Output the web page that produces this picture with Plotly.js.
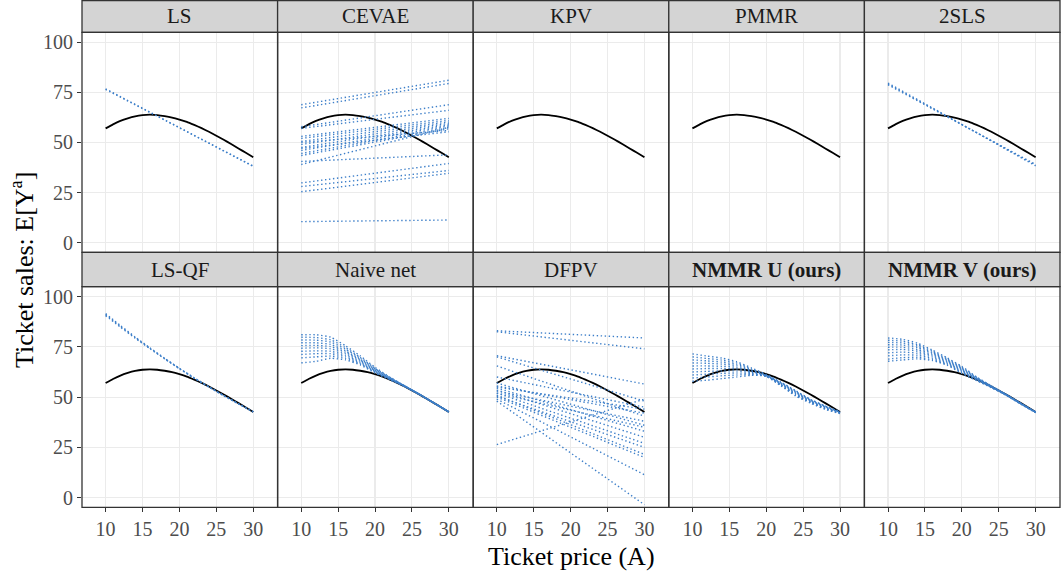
<!DOCTYPE html>
<html>
<head>
<meta charset="utf-8">
<script src="https://cdn.plot.ly/plotly-3.0.1.min.js"></script>
<style>
  html, body { margin: 0; padding: 0; background: #ffffff; }
  #chart { width: 1061px; height: 579px; }
</style>
</head>
<body>
<div id="chart"></div>
<script>
// Facet order, left to right, top row then bottom row
const methods = ['LS', 'CEVAE', 'KPV', 'PMMR', '2SLS',
                 'LS-QF', 'Naive net', 'DFPV', 'NMMR U (ours)', 'NMMR V (ours)'];
const boldMethods = ['NMMR U (ours)', 'NMMR V (ours)'];

const xTicks = [10, 15, 20, 25, 30];
const yTicks = [0, 25, 50, 75, 100];

// True causal curve E[Y^a]
const truthPrice = [10, 11, 12, 13, 14, 15, 16, 17, 18, 19, 20, 21, 22, 23, 24, 25, 26, 27, 28, 29, 30];
const truthSales = [57.0, 59.0, 60.7, 62.0, 63.0, 63.6, 63.8, 63.6, 63.1, 62.4, 61.4,
                    60.2, 58.7, 57.1, 55.3, 53.3, 51.3, 49.2, 47.0, 44.8, 42.6];

// Price grid for the nonlinear estimators
const curvePrice = [10, 12, 14, 16, 18, 20, 22, 24, 26, 28, 30];
// Linear estimators are given by their values at the two ends
const linePrice = [10, 30];

const lsLines = [[76.4, 38.2], [76.7, 38.0]];
const tslsLines = [[79.1, 38.7], [79.6, 38.3], [78.7, 39.0]];
const cevaeLines = [
  [68.8, 81.0], [67.2, 79.4], [57.8, 68.8], [57.0, 66.0], [53.0, 62.0],
  [52.0, 61.0], [50.5, 60.2], [49.0, 59.5], [47.5, 58.8], [46.0, 58.2],
  [44.5, 57.5], [43.5, 56.8], [50.0, 56.0], [47.0, 55.3], [39.0, 57.5],
  [40.5, 43.8], [29.8, 39.5], [28.0, 36.0], [25.4, 34.6], [10.5, 11.3]
];
const dfpvLines = [
  [83.0, 79.4], [82.5, 74.0], [70.6, 56.5], [70.0, 48.0], [65.5, 40.5],
  [60.0, 45.0], [57.0, 36.0], [55.5, 42.0], [54.5, 33.0], [53.5, 30.0],
  [53.0, 38.0], [52.0, 27.0], [51.0, 21.5], [50.5, 25.0], [50.0, 20.0],
  [49.0, 11.4], [48.0, -3.5], [26.4, 49.0], [55.0, 44.0], [52.0, 35.0]
];

const lsqfCurves = [
  [91.0, 85.2, 79.6, 74.3, 69.1, 64.2, 59.5, 55.0, 50.7, 46.6, 42.7],
  [91.5, 85.6, 79.9, 74.5, 69.3, 64.3, 59.6, 55.1, 50.8, 46.7, 42.8],
  [90.5, 84.8, 79.3, 74.1, 69.0, 64.1, 59.4, 55.0, 50.7, 46.6, 42.6]
];

const naiveCurves = [
  [81.0, 81.0, 79.8, 75.5, 70.5, 64.8, 60.0, 55.7, 51.5, 47.1, 42.7],
  [79.8, 79.6, 78.5, 74.6, 69.8, 64.3, 59.8, 55.6, 51.5, 47.1, 42.7],
  [78.4, 78.3, 77.4, 73.8, 69.3, 64.0, 59.6, 55.6, 51.5, 47.1, 42.7],
  [77.0, 77.0, 76.2, 73.0, 68.8, 63.7, 59.4, 55.5, 51.4, 47.0, 42.6],
  [75.6, 75.7, 75.1, 72.3, 68.3, 63.4, 59.3, 55.5, 51.4, 47.0, 42.6],
  [74.3, 74.5, 74.0, 71.6, 67.8, 63.1, 59.1, 55.4, 51.4, 47.0, 42.6],
  [72.8, 73.0, 72.8, 70.8, 67.3, 62.8, 59.0, 55.4, 51.4, 47.0, 42.6],
  [71.2, 71.6, 71.6, 70.0, 66.8, 62.5, 58.9, 55.3, 51.3, 47.0, 42.6],
  [69.5, 70.0, 70.4, 69.2, 66.4, 62.3, 58.8, 55.3, 51.3, 47.0, 42.6],
  [67.0, 67.8, 69.3, 68.5, 66.0, 62.0, 58.7, 55.3, 51.3, 47.0, 42.6]
];

const nmmrUCurves = [
  [71.5, 70.4, 69.4, 67.6, 64.5, 61.2, 57.4, 53.2, 48.9, 45.6, 42.7],
  [70.0, 69.2, 68.4, 67.0, 64.0, 61.0, 57.2, 52.9, 48.7, 45.5, 42.6],
  [68.5, 68.0, 67.4, 66.3, 63.6, 60.8, 57.0, 52.6, 48.5, 45.3, 42.5],
  [67.0, 66.8, 66.4, 65.6, 63.2, 60.7, 56.8, 52.3, 48.3, 45.1, 42.4],
  [65.5, 65.5, 65.3, 64.8, 62.8, 60.6, 56.6, 52.0, 48.1, 44.9, 42.3],
  [64.0, 64.2, 64.2, 64.0, 62.4, 60.5, 56.4, 51.7, 47.9, 44.7, 42.2],
  [62.5, 62.8, 63.0, 63.0, 62.0, 60.4, 56.2, 51.4, 47.7, 44.5, 42.1],
  [61.0, 61.4, 61.8, 62.0, 61.6, 60.4, 56.0, 51.1, 47.5, 44.3, 42.0],
  [59.5, 60.0, 60.6, 61.0, 61.2, 60.4, 55.8, 50.8, 47.3, 44.1, 41.9],
  [57.9, 58.4, 59.2, 60.0, 60.8, 60.4, 55.6, 50.5, 47.0, 43.9, 41.8]
];

const nmmrVCurves = [
  [79.4, 78.7, 76.8, 73.4, 69.5, 65.3, 60.0, 55.6, 51.4, 47.0, 42.6],
  [78.3, 77.8, 76.0, 72.8, 69.0, 64.9, 59.8, 55.5, 51.3, 46.9, 42.6],
  [77.2, 76.9, 75.3, 72.2, 68.6, 64.5, 59.6, 55.4, 51.3, 46.9, 42.5],
  [76.0, 75.9, 74.5, 71.7, 68.2, 64.1, 59.4, 55.3, 51.2, 46.8, 42.5],
  [74.8, 74.8, 73.6, 71.1, 67.8, 63.7, 59.2, 55.2, 51.2, 46.8, 42.5],
  [73.5, 73.7, 72.8, 70.5, 67.4, 63.3, 59.0, 55.1, 51.1, 46.7, 42.4],
  [72.0, 72.4, 71.8, 69.9, 67.0, 62.9, 58.8, 55.0, 51.1, 46.7, 42.4],
  [70.5, 71.0, 70.8, 69.2, 66.6, 62.5, 58.6, 54.9, 51.0, 46.6, 42.4],
  [68.9, 69.6, 69.8, 68.6, 66.2, 62.1, 58.4, 54.8, 51.0, 46.6, 42.3],
  [67.8, 68.5, 69.0, 68.2, 65.9, 61.8, 58.2, 54.7, 50.9, 46.5, 42.3]
];

// Estimated curves per facet: {x grid, list of replicate y series}
const estimates = {
  'LS':            { x: linePrice,  ys: lsLines },
  'CEVAE':         { x: linePrice,  ys: cevaeLines },
  'KPV':           { x: linePrice,  ys: [] },
  'PMMR':          { x: linePrice,  ys: [] },
  '2SLS':          { x: linePrice,  ys: tslsLines },
  'LS-QF':         { x: curvePrice, ys: lsqfCurves },
  'Naive net':     { x: curvePrice, ys: naiveCurves },
  'DFPV':          { x: linePrice,  ys: dfpvLines },
  'NMMR U (ours)': { x: curvePrice, ys: nmmrUCurves },
  'NMMR V (ours)': { x: curvePrice, ys: nmmrVCurves }
};

// ---- layout geometry (pixels) ----
const W = 1061, H = 579;
const colLeft = 82, colWidth = 195.6;
const rows = [
  { stripTop: 0.5,   panelTop: 32.3,  panelBottom: 252.3 },
  { stripTop: 252.3, panelTop: 286.7, panelBottom: 507.3 }
];
const px = v => v / W;
const py = v => 1 - v / H;

const serif = 'Liberation Serif, Times New Roman, serif';
const estColor = '#3D7FC9';

const traces = [];
const layout = {
  width: W, height: H,
  margin: { l: 0, r: 0, t: 0, b: 0 },
  paper_bgcolor: '#ffffff',
  plot_bgcolor: '#ffffff',
  showlegend: false,
  font: { family: serif, color: '#4D4D4D' },
  shapes: [],
  annotations: []
};

methods.forEach((name, i) => {
  const r = Math.floor(i / 5), c = i % 5;
  const n = i + 1;
  const xa = n === 1 ? 'x' : 'x' + n;
  const ya = n === 1 ? 'y' : 'y' + n;
  const xKey = n === 1 ? 'xaxis' : 'xaxis' + n;
  const yKey = n === 1 ? 'yaxis' : 'yaxis' + n;
  const row = rows[r];
  const x0 = colLeft + c * colWidth, x1 = x0 + colWidth;

  layout[xKey] = {
    domain: [px(x0), px(x1)],
    anchor: ya,
    range: [6.8, 33.3],
    tickvals: xTicks,
    showticklabels: r === 1,
    ticks: r === 1 ? 'outside' : '',
    ticklen: 4, tickwidth: 1, tickcolor: '#333333',
    tickfont: { family: serif, size: 20, color: '#4D4D4D' },
    showgrid: true, gridcolor: '#EBEBEB', gridwidth: 1.1,
    zeroline: false, showline: false, fixedrange: true
  };
  layout[yKey] = {
    domain: [py(row.panelBottom), py(row.panelTop)],
    anchor: xa,
    range: [-4.8, 104.9],
    tickvals: yTicks,
    showticklabels: c === 0,
    ticks: c === 0 ? 'outside' : '',
    ticklen: 4, tickwidth: 1, tickcolor: '#333333',
    tickfont: { family: serif, size: 20, color: '#4D4D4D' },
    showgrid: true, gridcolor: '#EBEBEB', gridwidth: 1.1,
    zeroline: false, showline: false, fixedrange: true
  };

  // true curve
  traces.push({
    type: 'scatter', mode: 'lines', xaxis: xa, yaxis: ya,
    x: truthPrice, y: truthSales,
    line: { color: '#000000', width: 1.8, shape: 'spline', smoothing: 0.3 },
    hoverinfo: 'skip'
  });

  // replicate estimates
  const est = estimates[name];
  est.ys.forEach(ys => {
    traces.push({
      type: 'scatter', mode: 'lines', xaxis: xa, yaxis: ya,
      x: est.x, y: ys,
      line: { color: estColor, width: 1.4, dash: '1.4px,2.6px',
              shape: est.x.length > 2 ? 'spline' : 'linear', smoothing: 0.5 },
      hoverinfo: 'skip'
    });
  });

  // strip
  layout.shapes.push({
    type: 'rect', xref: 'paper', yref: 'paper', layer: 'above',
    x0: px(x0), x1: px(x1), y0: py(row.panelTop), y1: py(row.stripTop),
    fillcolor: '#D4D4D4', line: { color: '#333333', width: 1.3 }
  });
  // panel border
  layout.shapes.push({
    type: 'rect', xref: 'paper', yref: 'paper', layer: 'above',
    x0: px(x0), x1: px(x1), y0: py(row.panelBottom), y1: py(row.panelTop),
    fillcolor: 'rgba(0,0,0,0)', line: { color: '#333333', width: 1.3 }
  });
  const label = boldMethods.includes(name) ? '<b>' + name + '</b>' : name;
  layout.annotations.push({
    xref: 'paper', yref: 'paper',
    x: px((x0 + x1) / 2), y: py((row.stripTop + row.panelTop) / 2),
    xanchor: 'center', yanchor: 'middle', showarrow: false,
    text: label,
    font: { family: serif, size: 21, color: '#1A1A1A' }
  });
});

// axis titles
layout.annotations.push({
  xref: 'paper', yref: 'paper',
  x: px(colLeft + 2.5 * colWidth), y: py(556),
  xanchor: 'center', yanchor: 'middle', showarrow: false,
  text: 'Ticket price (A)',
  font: { family: serif, size: 26, color: '#000000' }
});
layout.annotations.push({
  xref: 'paper', yref: 'paper',
  x: px(22), y: py(270),
  xanchor: 'center', yanchor: 'middle', showarrow: false, textangle: -90,
  text: 'Ticket sales: E[Y<sup>a</sup>]',
  font: { family: serif, size: 26, color: '#000000' }
});

Plotly.newPlot('chart', traces, layout, { staticPlot: true, displayModeBar: false });
</script>
</body>
</html>
